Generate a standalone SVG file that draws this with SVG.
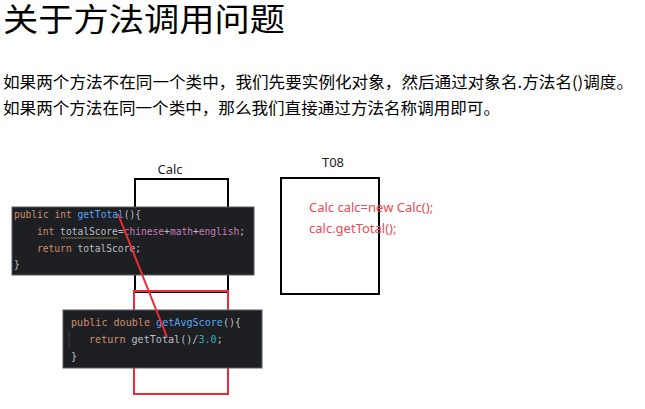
<svg xmlns="http://www.w3.org/2000/svg" width="645" height="409" viewBox="0 0 645 409">
<style>
.title{font-family:"Noto Sans CJK SC","Noto Sans",sans-serif;font-size:32px;fill:#000}
.para{font-family:"Noto Sans CJK SC","Noto Sans",sans-serif;font-size:16px;fill:#000}
.lbl{font-family:"Noto Sans","Liberation Sans",sans-serif;font-size:13px;fill:#222;text-anchor:middle}
.code{font-family:"DejaVu Sans Mono","Liberation Mono",monospace;fill:#bcbec4}
.kw{fill:#cf8e6d}.fn{fill:#56a8f5}.fld{fill:#c77dbb}.num{fill:#2aacb8}
.panel{fill:#1e1f22;stroke:#5a5d63;stroke-width:1}
.red{font-family:"Noto Sans","Liberation Sans",sans-serif;font-size:13px;fill:#ef4a55}
</style>
<rect width="645" height="409" fill="#fff"/>
<text class="title" x="3" y="31" textLength="282" lengthAdjust="spacingAndGlyphs">关于方法调用问题</text>
<text class="para" x="3" y="88" textLength="630" lengthAdjust="spacingAndGlyphs">如果两个方法不在同一个类中，我们先要实例化对象，然后通过对象名.方法名()调度。</text>
<text class="para" x="3" y="114" textLength="497" lengthAdjust="spacingAndGlyphs">如果两个方法在同一个类中，那么我们直接通过方法名称调用即可。</text>

<g id="calc">
<text class="lbl" x="170" y="174">Calc</text>
<rect x="135" y="179" width="93" height="113" fill="#fff" stroke="#000" stroke-width="2"/>
<rect x="134" y="291" width="94" height="103" fill="none" stroke="#ee2a35" stroke-width="2"/>
</g>

<g id="t08">
<text class="lbl" x="333" y="167">T08</text>
<rect x="281" y="178" width="98" height="116" fill="#fff" stroke="#000" stroke-width="2"/>
<text class="red" x="309" y="212">Calc calc=new Calc();</text>
<text class="red" x="309" y="233">calc.getTotal();</text>
</g>

<g id="getTotal">
<rect class="panel" x="12" y="207" width="242" height="68"/>
<text class="code" font-size="9.6" x="14" y="218"><tspan class="kw">public int </tspan><tspan class="fn">getTotal</tspan>(){</text>
<text class="code" font-size="9.6" x="37" y="235"><tspan class="kw">int </tspan><tspan>totalScore</tspan>=<tspan class="fld">chinese</tspan>+<tspan class="fld">math</tspan>+<tspan class="fld">english</tspan>;</text>
<path d="M61 238.5 l1.5 -1 l1.5 1 l1.5 -1 l1.5 1 l1.5 -1 l1.5 1 l1.5 -1 l1.5 1 l1.5 -1 l1.5 1 l1.5 -1 l1.5 1 l1.5 -1 l1.5 1 l1.5 -1 l1.5 1 l1.5 -1 l1.5 1 l1.5 -1 l1.5 1 l1.5 -1 l1.5 1 l1.5 -1 l1.5 1 l1.5 -1 l1.5 1 l1.5 -1 l1.5 1 l1.5 -1 l1.5 1 l1.5 -1 l1.5 1 l1.5 -1 l1.5 1 l1.5 -1 l1.5 1 l1.5 -1 l1.5 1" fill="none" stroke="#a89a3a" stroke-width="0.7"/>
<text class="code" font-size="9.6" x="37" y="252"><tspan class="kw">return </tspan>totalScore;</text>
<text class="code" font-size="9.6" x="14" y="268">}</text>
</g>

<g id="getAvgScore">
<rect class="panel" x="63" y="310" width="199" height="58"/>
<line x1="69" y1="331" x2="69" y2="348" stroke="#3a3c40" stroke-width="1"/>
<text class="code" font-size="10.1" x="71" y="326"><tspan class="kw">public double </tspan><tspan class="fn">getAvgScore</tspan>(){</text>
<text class="code" font-size="10.1" x="89" y="343"><tspan class="kw">return </tspan>getTotal()/<tspan class="num">3.0</tspan>;</text>
<text class="code" font-size="10.1" x="71" y="360">}</text>
</g>

<g id="connectors">
<line x1="118" y1="214" x2="167" y2="337" stroke="#ee2a35" stroke-width="2"/>
</g>
</svg>
